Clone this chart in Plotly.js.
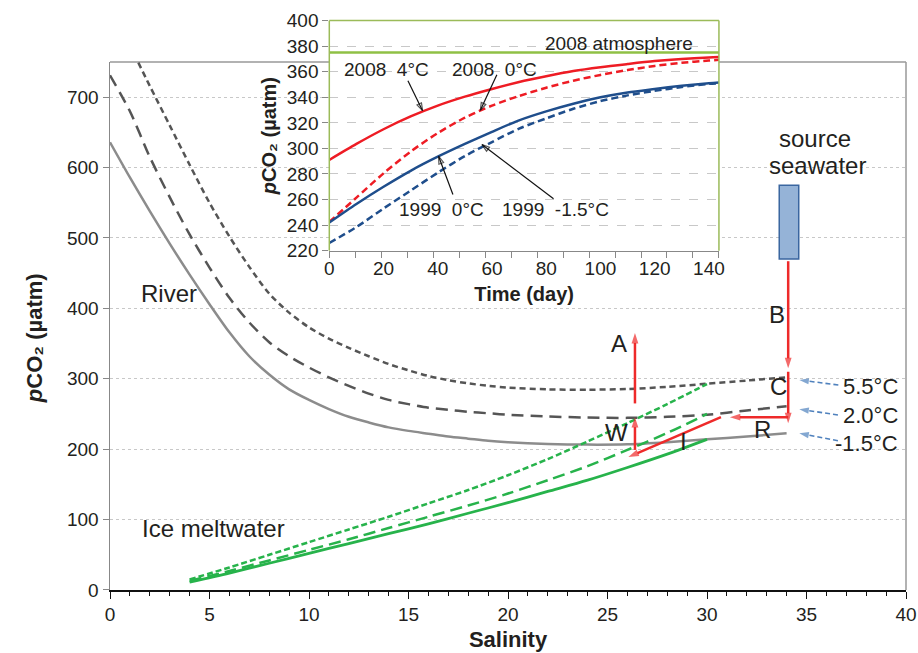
<!DOCTYPE html>
<html><head><meta charset="utf-8">
<script src="https://cdn.plot.ly/plotly-3.0.1.min.js"></script>
<style>html,body{margin:0;padding:0;background:#fff}#chart{width:918px;height:653px}</style>
</head><body><div id="chart"></div>
<script>
// ---------- main chart data (salinity vs pCO2) ----------
const riverSal   = [0,1,2,3,4,5,6,7,8,9,10,11,12,13,14,15,16,17,18,19,20,22,24,26,28,30,32,34];
const riverM15   = [636,586,538,492,448,406,366,332,306,285,270,257,246,238,231,226,222,218,215,212,210,207.5,206.5,207,210,214,218,222.5];
const river20    = [731,680,615,558,505,458,415,380,352,332,316,302,290,279,270,264,259,256,253,251,249,246.5,245,244.5,246,249,255,261];
const riverSal55 = [1.2,2,3,4,5,6,7,8,9,10,11,12,13,14,15,16,17,18,19,20,22,24,26,28,30,32,34];
const river55    = [762,716,660,604,550,502,459,421,394,373,357,344,332,321,312,304,298,293.5,290,287.5,285,284.5,285.5,288.5,293,297.5,302];
const iceSal     = [4,6,8,10,12,14,16,18,20,22,24,26,28,30];
const iceM15     = [11,24,38,52,66,80,94,109,124,140,156,174,193,214];
const ice20      = [13,27,42,57,72,88,104,120,137,156,176,199,223,250];
const ice55      = [15,32,50,68,86,104,123,142,163,186,211,237,264,292.5];
const tempLabels = ['5.5°C','2.0°C','-1.5°C'];
// process arrows: [tail salinity, tail pCO2, head salinity, head pCO2]
const redArrows  = [[34.08,467,34.08,315],[34.08,310,34.08,237],[34.08,245.5,31.15,245.5],
                    [30.7,245.5,26.05,188.8],[26.38,199,26.38,245.5],[26.38,265,26.38,365]];
const blueArrows = [[36.6,291.2,34.64,298.3],[36.58,248.6,34.64,256.7],[36.58,212,34.64,222.6]];
// ---------- inset data (time vs pCO2) ----------
const days       = [0,10,20,30,40,50,60,70,80,90,100,110,120,130,140,144];
const y2008_4C   = [291,303.5,315,325,333.5,340.5,346.5,352,356.5,360.5,363.5,366,368.3,370,371.2,371.5];
const y2008_0C   = [242.5,261.5,280.5,297.5,312,324,333.5,341,347.5,353,357.5,361.3,364.5,367,368.8,369.3];
const y1999_0C   = [242,256.5,270,282.5,293.5,303.5,313,322,329,335,340,343.8,346.5,349,351,351.6];
const y1999_m15  = [226,238.5,253,267,281,294,305,315.5,323.5,331,337,341.5,345,348,350.5,351];
const atmDays    = [0,144];
const atm2008    = [375,375];
const insetTicks = [0,20,40,60,80,100,120,140];
const insetArrows = [[29,352.9,34.4,329.5],[61.8,357.6,55.7,329.8],[45.6,264,40.3,293.9],[82.7,260.7,56.3,303]];

const FONT = 'Arial, "Liberation Sans", sans-serif';
const TXT = '#231f20';
const RED = '#ee2a2a', BLUE = '#4f81bd';
const YTITLE = '<b><i>p</i>CO₂ (µatm)</b>';

const traces = [
  {x:riverSal, y:riverM15, mode:'lines', line:{color:'#8c8c8c', width:2.5, shape:'spline', smoothing:0.8}},
  {x:riverSal, y:river20, mode:'lines', line:{color:'#555555', width:2.5, dash:'12px,7px', shape:'spline', smoothing:0.8}},
  {x:riverSal55, y:river55, mode:'lines', line:{color:'#555555', width:2.5, dash:'6px,4px', shape:'spline', smoothing:0.8}},
  {x:iceSal, y:iceM15, mode:'lines', line:{color:'#27b34b', width:2.8, shape:'spline', smoothing:0.8}},
  {x:iceSal, y:ice20, mode:'lines', line:{color:'#27b34b', width:2.5, dash:'12px,6px', shape:'spline', smoothing:0.8}},
  {x:iceSal, y:ice55, mode:'lines', line:{color:'#27b34b', width:2.5, dash:'6px,3px', shape:'spline', smoothing:0.8}},
  {x:atmDays, y:atm2008, xaxis:'x2', yaxis:'y2', mode:'lines', line:{color:'#8fc045', width:2.5}},
  {x:days, y:y2008_4C, xaxis:'x2', yaxis:'y2', mode:'lines', line:{color:'#ee1c24', width:2.5, shape:'spline', smoothing:0.8}},
  {x:days, y:y2008_0C, xaxis:'x2', yaxis:'y2', mode:'lines', line:{color:'#ee1c24', width:2.5, dash:'7px,4px', shape:'spline', smoothing:0.8}},
  {x:days, y:y1999_0C, xaxis:'x2', yaxis:'y2', mode:'lines', line:{color:'#1f4e8c', width:2.5, shape:'spline', smoothing:0.8}},
  {x:days, y:y1999_m15, xaxis:'x2', yaxis:'y2', mode:'lines', line:{color:'#1f4e8c', width:2.5, dash:'7px,4px', shape:'spline', smoothing:0.8}}
];

function arrowTrace(a, color, w, size, symbol, dash, xa, ya) {
  return {x:[a[0], a[2]], y:[a[1], a[3]], xaxis:xa, yaxis:ya, mode:'lines+markers', hoverinfo:'skip',
          line:{color:color, width:w, dash:dash || 'solid'},
          marker:{symbol:['circle', symbol], size:[0, size], angleref:'previous', color:color,
                  line:{color:color, width:symbol.indexOf('open') >= 0 ? 1.2 : 0}}};
}
redArrows.forEach(a => traces.push(arrowTrace(a, RED, 2.5, 11, 'arrow', 'solid', 'x', 'y')));
blueArrows.forEach(a => traces.push(arrowTrace(a, BLUE, 1.6, 10, 'arrow', '5px,3px', 'x', 'y')));
insetArrows.forEach(a => traces.push(arrowTrace(a, '#111', 1.2, 8, 'arrow-open', 'solid', 'x2', 'y2')));

function label(x, y, t, size, xr, yr, anchor) {
  return {x:x, y:y, xref:xr||'x', yref:yr||'y', text:t, showarrow:false,
          xanchor:anchor||'center', yanchor:'middle', font:{family:FONT, size:size, color:TXT}};
}
const ann = [
  label(2.94, 421, 'River', 24),
  label(5.19, 88, 'Ice meltwater', 24),
  label(35.43, 642, 'source', 24),
  label(35.54, 603, 'seawater', 24),
  label(25.6, 350, 'A', 24), label(33.5, 391, 'B', 24), label(33.6, 289, 'C', 24),
  label(25.45, 223, 'W', 24), label(28.8, 211, 'I', 24), label(32.8, 227.5, 'R', 24),
  label(39.7, 289, tempLabels[0], 22, 'x', 'y', 'right'),
  label(39.7, 248, tempLabels[1], 22, 'x', 'y', 'right'),
  label(39.7, 208.5, tempLabels[2], 22, 'x', 'y', 'right'),
  label(106.8, 382.3, '2008 atmosphere', 19, 'x2', 'y2'),
  label(21.2, 361.5, '2008  4°C', 19, 'x2', 'y2'),
  label(60.9, 361.5, '2008  0°C', 19, 'x2', 'y2'),
  label(41.2, 252.4, '1999  0°C', 19, 'x2', 'y2'),
  label(83.4, 252.4, '1999  -1.5°C', 19, 'x2', 'y2'),
  {x:-0.0955, y:0.438, xref:'paper', yref:'paper', text:YTITLE, textangle:-90,
   showarrow:false, xanchor:'center', yanchor:'middle', font:{family:FONT, size:22, color:TXT}}
];

const shapes = [
  {type:'line', xref:'x domain', yref:'y domain', x0:0, x1:1, y0:1, y1:1, line:{color:'#999', width:1.5}, layer:'below'},
  {type:'line', xref:'x domain', yref:'y domain', x0:1, x1:1, y0:0, y1:1, line:{color:'#999', width:1.5}, layer:'below'},
  {type:'rect', xref:'x', yref:'y', x0:33.63, x1:34.61, y0:470, y1:575, fillcolor:'#95b3d7', line:{color:'#3a66a0', width:1.5}},
  {type:'line', xref:'x2 domain', yref:'y2 domain', x0:0, x1:0, y0:0, y1:1, line:{color:'#9bbb59', width:1.5}},
  {type:'line', xref:'x2 domain', yref:'y2 domain', x0:0, x1:1, y0:1, y1:1, line:{color:'#9bbb59', width:1.5}},
  {type:'line', xref:'x2 domain', yref:'y2 domain', x0:1, x1:1, y0:0, y1:1, line:{color:'#9bbb59', width:1.5}}
];

const minorInset = [];
for (let k = 0; k <= 15; k++) minorInset.push(k * 143.7 / 15);

const layout = {
  width:918, height:653, margin:{l:110, r:12, t:15, b:63},
  paper_bgcolor:'#fff', plot_bgcolor:'#fff', showlegend:false,
  font:{family:FONT, color:TXT},
  xaxis:{domain:[0,1], range:[0,40], dtick:5, tick0:0, ticks:'outside', ticklen:7, tickcolor:'#111',
         minor:{dtick:1, ticks:'outside', ticklen:4, tickcolor:'#111'},
         showline:true, linecolor:'#111', linewidth:1.5, showgrid:false, zeroline:false,
         tickfont:{size:19, color:TXT},
         title:{text:'<b>Salinity</b>', font:{size:22, color:TXT}, standoff:7}},
  yaxis:{domain:[0,0.9183], range:[0,750], dtick:100, ticks:'outside', ticklen:6, tickcolor:'#888',
         showline:true, linecolor:'#888', linewidth:1.5, showgrid:true, gridcolor:'#c8c8c8', griddash:'dot',
         zeroline:false, tickfont:{size:19, color:TXT}},
  xaxis2:{domain:[0.2755,0.765], anchor:'y2', range:[0,143.7], tickmode:'array', tickvals:insetTicks, ticks:'',
          minor:{tickmode:'array', tickvals:minorInset, ticks:'outside', ticklen:6, tickcolor:'#888'},
          showline:true, linecolor:'#888', linewidth:1.2, showgrid:false, zeroline:false,
          tickfont:{size:19, color:TXT},
          title:{text:'<b>Time (day)</b>', font:{size:20, color:TXT}, standoff:9}},
  yaxis2:{domain:[0.5901,0.9903], anchor:'x2', range:[220,400], dtick:20, ticks:'outside', ticklen:6, tickcolor:'#888',
          showline:false, showgrid:true, gridcolor:'#c8c8c8', griddash:'dash', zeroline:false,
          tickfont:{size:19, color:TXT},
          title:{text:YTITLE, font:{size:20, color:TXT}, standoff:4}},
  shapes:shapes, annotations:ann
};
Plotly.newPlot('chart', traces, layout, {staticPlot:true, displayModeBar:false});
</script></body></html>
